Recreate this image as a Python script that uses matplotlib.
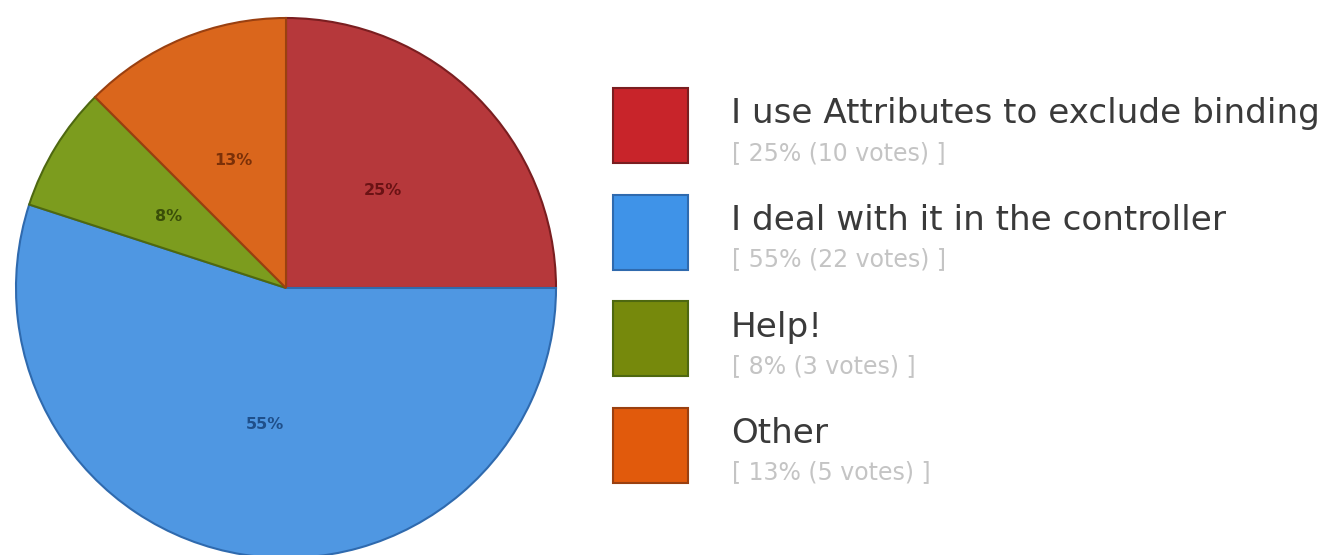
import matplotlib
matplotlib.use("Agg")
import matplotlib.pyplot as plt
from matplotlib.patches import Rectangle

labels = ["I use Attributes to exclude binding", "I deal with it in the controller", "Help!", "Other"]
votes = [10, 22, 3, 5]
pct_labels = ["25%", "55%", "8%", "13%"]
slice_colors = ["#B6383B", "#4F97E2", "#7C9C1E", "#DA661C"]
edge_colors = ["#7A1E20", "#2F6AAE", "#4E6810", "#9A4010"]
legend_colors = ["#C8242A", "#3F93E8", "#76890C", "#E15A0C"]
text_colors = ["#6A1214", "#1F4F8A", "#3A4E08", "#7A3008"]

W, H = 1328, 555
fig = plt.figure(figsize=(W / 100, H / 100), dpi=100)
fig.patch.set_facecolor("white")

cx, cy, r = 286, 288, 270
ax = fig.add_axes([(cx - r) / W, (H - cy - r) / H, 2 * r / W, 2 * r / H])
total = sum(votes)
wedges, texts = ax.pie(votes, colors=slice_colors, startangle=90, counterclock=False,
                       labels=pct_labels, labeldistance=0.51,
                       wedgeprops=dict(linewidth=1.5), radius=1)
for w, ec in zip(wedges, edge_colors):
    w.set_edgecolor(ec)
    w.set_clip_on(False)
for t, tc in zip(texts, text_colors):
    t.set_color(tc)
    t.set_fontsize(11.5)
    t.set_fontweight("bold")
    t.set_ha("center")
    t.set_va("center")
ax.set_xlim(-1, 1)
ax.set_ylim(-1, 1)
ax.set_aspect("equal")
ax.axis("off")

# legend in pixel coordinates
lax = fig.add_axes([0, 0, 1, 1])
lax.set_xlim(0, W)
lax.set_ylim(H, 0)
lax.axis("off")
lx, ly0, size, step = 613, 88, 75, 106.5
for i, (lab, v) in enumerate(zip(labels, votes)):
    y = ly0 + i * step
    lax.add_patch(Rectangle((lx, y), size, size, facecolor=legend_colors[i],
                            edgecolor=edge_colors[i], linewidth=1.5))
    lax.text(731, y + 26, lab, fontsize=24.6, color="#3A3A3A", va="center", ha="left",
             family="DejaVu Sans")
    pct = round(100 * v / total + 1e-9)
    lax.text(732, y + 65, f"[ {pct}% ({v} votes) ]", fontsize=17, color="#C4C4C4",
             va="center", ha="left", family="DejaVu Sans")

fig.savefig("out.png", dpi=100, facecolor="white")
